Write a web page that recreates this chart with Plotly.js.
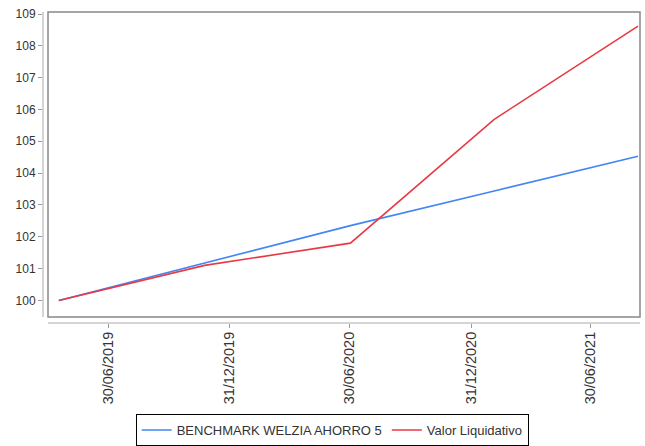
<!DOCTYPE html>
<html>
<head>
<meta charset="utf-8">
<script src="https://cdn.plot.ly/plotly-3.0.1.min.js"></script>
<style>html,body{margin:0;padding:0;background:#fff;}#chart{width:645px;height:446px;}</style>
</head>
<body>
<div id="chart"></div>
<script>
const dates = ['2019-04-16', '2019-11-23', '2020-07-01', '2021-02-04', '2021-09-10'];
const benchmark = [100, 101.18, 102.35, 103.44, 104.53];
const valorLiquidativo = [100, 101.10, 101.80, 105.69, 108.62];
const seriesNames = ['BENCHMARK WELZIA AHORRO 5', 'Valor Liquidativo'];
const xTickVals = ['2019-06-30', '2019-12-31', '2020-06-30', '2020-12-31', '2021-06-30'];
const xTickText = ['30/06/2019', '31/12/2019', '30/06/2020', '31/12/2020', '30/06/2021'];
const yTickVals = [100, 101, 102, 103, 104, 105, 106, 107, 108, 109];

const W = 645, H = 446;
const mL = 43, mR = 5, mT = 12, mB = 123;
const pw = W - mL - mR, ph = H - mT - mB;
const bx0 = 5 / pw, by0 = 6 / ph;

const traces = [
  {x: dates, y: benchmark, name: seriesNames[0], type: 'scatter', mode: 'lines',
   line: {color: 'rgb(66,133,244)', width: 1.6}},
  {x: dates, y: valorLiquidativo, name: seriesNames[1], type: 'scatter', mode: 'lines',
   line: {color: 'rgb(232,58,68)', width: 1.6}}
];

const layout = {
  width: W, height: H,
  margin: {l: mL, r: mR, t: mT, b: mB},
  paper_bgcolor: '#fff', plot_bgcolor: '#fff',
  font: {family: 'Liberation Sans, Arial, sans-serif', size: 12, color: '#333'},
  showlegend: true,
  legend: {orientation: 'h', xref: 'container', yref: 'container', x: 0.515, xanchor: 'center',
           y: 1 - 414 / H, yanchor: 'top', bordercolor: '#000', borderwidth: 1,
           font: {size: 13, color: '#333'}, bgcolor: '#fff', tracegroupgap: 0,
           itemwidth: 30},
  xaxis: {type: 'date', range: ['2019-03-23', '2021-09-13'], tickmode: 'array',
          tickvals: xTickVals, ticktext: xTickText, tickangle: -90,
          ticks: 'outside', ticklen: 4, tickcolor: '#999', showgrid: false, zeroline: false,
          showline: false, ticklabelstandoff: -2, tickfont: {size: 14.5, color: '#333'}},
  yaxis: {range: [99.29, 109.063], tickmode: 'array', tickvals: yTickVals,
          ticks: 'outside', ticklen: 4, tickcolor: '#999', showgrid: false, zeroline: false,
          showline: false, tickfont: {size: 12, color: '#333'}},
  shapes: [
    {type: 'rect', xref: 'paper', yref: 'paper', x0: bx0, x1: 1, y0: by0, y1: 1,
     line: {color: '#888', width: 1.5}, layer: 'below'},
    {type: 'line', xref: 'paper', yref: 'paper', x0: 0, x1: 0, y0: by0, y1: 1,
     line: {color: '#aaa', width: 1}},
    {type: 'line', xref: 'paper', yref: 'paper', x0: bx0, x1: 1, y0: 0, y1: 0,
     line: {color: '#aaa', width: 1}}
  ]
};

Plotly.newPlot('chart', traces, layout, {displayModeBar: false, staticPlot: true});
</script>
</body>
</html>
